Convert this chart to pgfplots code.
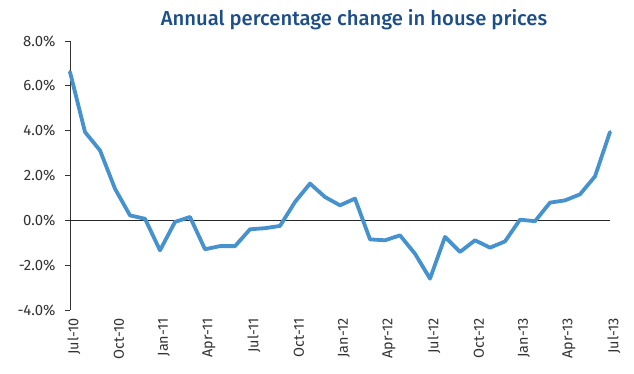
\documentclass[border=0pt]{standalone}
\usepackage{pgfplots}
\pgfplotsset{compat=1.18}
\usepackage{fontspec}
\setmainfont{Fira Sans}
\newfontfamily\titlefont{Fira Sans Medium}
\definecolor{linec}{RGB}{70,146,206}
\definecolor{titlec}{RGB}{28,78,140}
\definecolor{textc}{RGB}{50,50,50}
\begin{document}
\begin{tikzpicture}
\useasboundingbox (-70bp,-64bp) rectangle (564bp,310bp);
\begin{axis}[
  at={(0,0)}, anchor=south west,
  scale only axis, width=540bp, height=269bp,
  xmin=0, xmax=36, ymin=-4, ymax=8,
  axis lines*=left,
  x axis line style={draw=none},
  y axis line style={black!80, line width=0.8bp},
  xtick={0,3,...,36},
  xticklabels={Jul-10,Oct-10,Jan-11,Apr-11,Jul-11,Oct-11,Jan-12,Apr-12,Jul-12,Oct-12,Jan-13,Apr-13,Jul-13},
  x tick style={draw=none},
  xticklabel style={rotate=90, anchor=east, font=\fontsize{14.5}{16}\selectfont, text=textc, yshift=-4bp},
  ytick={-4,-2,...,8},
  yticklabel={\pgfmathprintnumber[fixed,fixed zerofill,precision=1]{\tick}\%},
  yticklabel style={font=\fontsize{15}{17}\selectfont, text=textc, xshift=-6bp},
  /pgf/number format/assume math mode=true,
  y tick style={black!80, line width=0.8bp},
  tick align=outside, major tick length=5bp,
  clip=false,
]
\draw[black!85, line width=0.9bp] (axis cs:0,0) -- (axis cs:36,0);
\addplot[linec, line width=3.8bp, line join=round, line cap=round, mark=none] coordinates {
(0,6.62) (1,3.94) (2,3.12) (3,1.41) (4,0.22) (5,0.07) (6,-1.34) (7,-0.07) (8,0.15)
(9,-1.29) (10,-1.15) (11,-1.15) (12,-0.40) (13,-0.35) (14,-0.25) (15,0.82) (16,1.64)
(17,1.04) (18,0.67) (19,0.97) (20,-0.85) (21,-0.89) (22,-0.67) (23,-1.49) (24,-2.60)
(25,-0.74) (26,-1.41) (27,-0.89) (28,-1.22) (29,-0.94) (30,0.03) (31,-0.04) (32,0.79)
(33,0.89) (34,1.16) (35,1.96) (36,3.94)
};
\end{axis}
\node[text=titlec, font=\fontsize{20.3}{22}\selectfont\titlefont, anchor=center] at (284bp,290bp) {Annual percentage change in house prices};
\end{tikzpicture}
\end{document}
